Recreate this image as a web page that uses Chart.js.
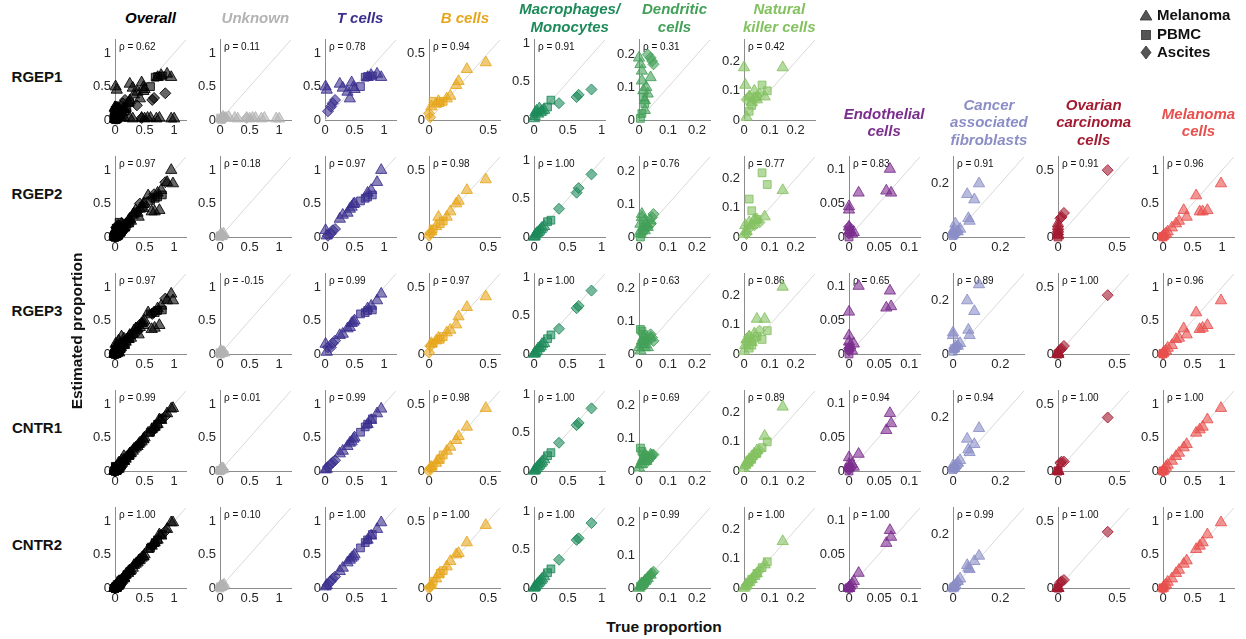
<!DOCTYPE html>
<html>
<head>
<meta charset="utf-8">
<script src="https://cdn.jsdelivr.net/npm/chart.js@4.4.1/dist/chart.umd.min.js"></script>
<style>
  body { margin: 0; background: #fff; width: 1246px; height: 639px; position: relative; overflow: hidden;
         font-family: "Liberation Sans", Arial, Helvetica, sans-serif; }
  canvas { position: absolute; }
  .title { position: absolute; width: 180px; text-align: center; font: italic bold 15px/17.5px "Liberation Sans", Arial, sans-serif; white-space: nowrap; }
  .lab { position: absolute; font-weight: bold; font-size: 15px; line-height: 18px; white-space: nowrap; color: #111; }
  .leg { position: absolute; left: 1140px; font-weight: bold; font-size: 15px; line-height: 18px; color: #111; }
  .leg svg { vertical-align: -2px; margin-right: 5px; }
</style>
</head>
<body>
<script>
// ---- labels ----
var ROWS = ["RGEP1", "RGEP2", "RGEP3", "CNTR1", "CNTR2"];
var COLUMNS = ["Overall", "Unknown", "T cells", "B cells", "Macrophages/\nMonocytes", "Dendritic\ncells",
  "Natural\nkiller cells", "Endothelial\ncells", "Cancer\nassociated\nfibroblasts", "Ovarian\ncarcinoma\ncells", "Melanoma\ncells"];
var COLORS = ["#000000", "#b3b3b3", "#3a2f8e", "#e6a61c", "#1d8a5a", "#43a058", "#84c160",
  "#7b2d8e", "#8b8ec6", "#a31b31", "#e8504d"];
var LIMITS = [1.2, 1.2, 1.2, 0.6, 1.05, 0.245, 0.275, 0.118, 0.3, 0.6, 1.2];
var TICKS = [[0, 0.5, 1], [0, 0.5, 1], [0, 0.5, 1], [0, 0.5], [0, 0.5, 1], [0, 0.1, 0.2], [0, 0.1, 0.2],
  [0, 0.05, 0.1], [0, 0.2], [0, 0.5], [0, 0.5, 1]];

// spearman rho per column, one per row (null = no panel)
var RHO = [
  [0.62, 0.97, 0.97, 0.99, 1.00],
  [0.11, 0.18, -0.15, 0.01, 0.10],
  [0.78, 0.97, 0.99, 0.99, 1.00],
  [0.94, 0.98, 0.97, 0.98, 1.00],
  [0.91, 1.00, 1.00, 1.00, 1.00],
  [0.31, 0.76, 0.63, 0.69, 0.99],
  [0.42, 0.77, 0.86, 0.89, 1.00],
  [null, 0.83, 0.65, 0.94, 1.00],
  [null, 0.91, 0.89, 0.94, 0.99],
  [null, 0.91, 1.00, 1.00, 1.00],
  [null, 0.96, 0.96, 1.00, 1.00]
];

// ---- data: true proportions (x) and estimates per row (y) ----
// M = melanoma samples, P = PBMC, A = ascites
// Unknown (true value differs per row)
var uTrueM = [[0.02, 0.05, 0.10, 0.15, 0.25, 0.30, 0.45, 0.50, 0.55, 0.60, 0.70, 0.75, 0.95, 1.00],
  [0, 0.01, 0.02, 0.03, 0.04, 0.06], [0, 0.01, 0.02, 0.03, 0.05, 0.07],
  [0, 0.01, 0.02, 0.03, 0.04, 0.06], [0, 0.01, 0.02, 0.04, 0.05, 0.07]];
var uEstM = [[0.02, 0.05, 0.03, 0.04, 0.03, 0.02, 0.03, 0.02, 0.03, 0.03, 0.02, 0.03, 0.02, 0.02],
  [0.02, 0.03, 0.01, 0.04, 0.02, 0.05], [0.03, 0.02, 0.04, 0.01, 0.03, 0.02],
  [0.01, 0.02, 0.03, 0.02, 0.04, 0.03], [0.02, 0.01, 0.02, 0.03, 0.03, 0.05]];
var uTrueP = [[0.01, 0.02], [0, 0.01], [0, 0.01], [0, 0.01], [0, 0.01]];
var uEstP = [[0.03, 0.01], [0.01, 0.02], [0.02, 0.0], [0.01, 0.01], [0.0, 0.02]];
var uTrueA = [[0.04, 0.06, 0.08, 0.45], [0.02, 0.05], [0.02, 0.05], [0.02, 0.05], [0.02, 0.05]];
var uEstA = [[0.02, 0.04, 0.03, 0.03], [0.03, 0.02], [0.01, 0.03], [0.02, 0.02], [0.03, 0.04]];

// T cells
var tTrueM = [0.01, 0.03, 0.25, 0.30, 0.38, 0.42, 0.45, 0.48, 0.50, 0.72, 0.78, 0.88, 0.95];
var tEstM = [
  [0.50, 0.45, 0.54, 0.48, 0.42, 0.32, 0.56, 0.49, 0.46, 0.64, 0.67, 0.69, 0.64],
  [0.10, 0.02, 0.27, 0.33, 0.36, 0.42, 0.45, 0.49, 0.50, 0.66, 0.70, 0.82, 1.00],
  [0.15, 0.03, 0.28, 0.30, 0.38, 0.40, 0.46, 0.48, 0.50, 0.68, 0.72, 0.80, 0.90],
  [0.02, 0.03, 0.26, 0.30, 0.37, 0.42, 0.44, 0.48, 0.50, 0.70, 0.76, 0.86, 0.93],
  [0.02, 0.04, 0.25, 0.30, 0.38, 0.42, 0.45, 0.47, 0.50, 0.72, 0.78, 0.88, 0.98]];
var tTrueP = [0.60, 0.68, 0.72, 0.80];
var tEstP = [[0.50, 0.64, 0.65, 0.66], [0.54, 0.58, 0.60, 0.63], [0.60, 0.62, 0.65, 0.66],
  [0.58, 0.66, 0.70, 0.78], [0.60, 0.68, 0.72, 0.80]];
var tTrueA = [0.05, 0.10, 0.13, 0.17];
var tEstA = [[0.13, 0.20, 0.25, 0.30], [0.02, 0.05, 0.10, 0.12], [0.10, 0.10, 0.16, 0.20],
  [0.06, 0.10, 0.13, 0.16], [0.05, 0.10, 0.14, 0.17]];

// B cells
var bTrueM = [0.02, 0.06, 0.08, 0.15, 0.18, 0.23, 0.25, 0.32, 0.48];
var bEstM = [
  [0.10, 0.12, 0.14, 0.16, 0.18, 0.26, 0.29, 0.38, 0.43],
  [0.04, 0.08, 0.15, 0.15, 0.19, 0.25, 0.27, 0.35, 0.43],
  [0.08, 0.10, 0.12, 0.16, 0.18, 0.22, 0.28, 0.35, 0.43],
  [0.03, 0.06, 0.08, 0.15, 0.18, 0.23, 0.26, 0.33, 0.47],
  [0.02, 0.07, 0.10, 0.16, 0.20, 0.25, 0.26, 0.34, 0.47]];
var bTrueP = [0.035, 0.095, 0.12];
var bEstP = [[0.14, 0.13, 0.14], [0.06, 0.10, 0.12], [0.08, 0.11, 0.13], [0.04, 0.09, 0.12], [0.05, 0.11, 0.13]];
var bTrueA = [0.0, 0.01];
var bEstA = [[0.05, 0.02], [0.01, 0.03], [0.01, 0.06], [0.0, 0.02], [0.0, 0.01]];

// Macrophages / monocytes
var mTrueM = [0, 0.01, 0.02, 0.04, 0.06, 0.08, 0.10, 0.12, 0.15];
var mEstM = [
  [0.02, 0.05, 0.10, 0.12, 0.08, 0.15, 0.10, 0.12, 0.13],
  [0.00, 0.01, 0.03, 0.05, 0.06, 0.08, 0.10, 0.12, 0.14],
  [0.00, 0.01, 0.02, 0.04, 0.07, 0.08, 0.10, 0.13, 0.14],
  [0.00, 0.01, 0.02, 0.04, 0.06, 0.08, 0.10, 0.12, 0.15],
  [0.00, 0.01, 0.02, 0.04, 0.06, 0.08, 0.10, 0.12, 0.15]];
var mTrueP = [0.20, 0.25];
var mEstP = [[0.17, 0.26], [0.20, 0.22], [0.20, 0.25], [0.20, 0.24], [0.20, 0.25]];
var mTrueA = [0.37, 0.63, 0.66, 0.85];
var mEstA = [[0.22, 0.30, 0.33, 0.40], [0.37, 0.58, 0.64, 0.82], [0.33, 0.60, 0.63, 0.83],
  [0.37, 0.60, 0.63, 0.82], [0.37, 0.63, 0.65, 0.85]];

// Dendritic cells
var dTrueM = [0, 0.005, 0.01, 0.01, 0.015, 0.02, 0.02, 0.025, 0.03, 0.04];
var dEstM = [
  [0.19, 0.17, 0.15, 0.12, 0.09, 0.06, 0.03, 0.10, 0.08, 0.13],
  [0.01, 0.04, 0.06, 0.07, 0.03, 0.05, 0.02, 0.04, 0.03, 0.05],
  [0.02, 0.01, 0.04, 0.03, 0.05, 0.02, 0.03, 0.04, 0.02, 0.05],
  [0.01, 0.02, 0.03, 0.02, 0.04, 0.03, 0.05, 0.03, 0.04, 0.05],
  [0.00, 0.005, 0.01, 0.012, 0.015, 0.02, 0.022, 0.025, 0.03, 0.04]];
var dTrueP = [0.005, 0.01, 0.015, 0.02];
var dEstP = [[0.005, 0.02, 0.07, 0.05], [0.0, 0.01, 0.02, 0.03], [0.075, 0.07, 0.06, 0.04],
  [0.07, 0.06, 0.05, 0.04], [0.005, 0.01, 0.015, 0.02]];
var dTrueA = [0.03, 0.04, 0.045, 0.05];
var dEstA = [[0.20, 0.19, 0.18, 0.17], [0.03, 0.04, 0.06, 0.07], [0.05, 0.06, 0.05, 0.04],
  [0.03, 0.04, 0.05, 0.05], [0.03, 0.04, 0.045, 0.05]];

// Natural killer cells
var nTrueM = [0, 0.005, 0.01, 0.02, 0.03, 0.04, 0.05, 0.08, 0.15];
var nEstM = [
  [0.18, 0.12, 0.01, 0.08, 0.06, 0.10, 0.07, 0.08, 0.18],
  [0.01, 0.04, 0.02, 0.05, 0.04, 0.06, 0.06, 0.07, 0.16],
  [0.01, 0.03, 0.05, 0.06, 0.04, 0.07, 0.12, 0.12, 0.23],
  [0.01, 0.02, 0.03, 0.04, 0.05, 0.06, 0.07, 0.12, 0.22],
  [0.00, 0.005, 0.01, 0.02, 0.03, 0.04, 0.05, 0.08, 0.16]];
var nTrueP = [0.02, 0.03, 0.05, 0.07, 0.09];
var nEstP = [[0.03, 0.05, 0.08, 0.12, 0.10], [0.13, 0.09, 0.06, 0.22, 0.18], [0.02, 0.03, 0.06, 0.05, 0.08],
  [0.03, 0.04, 0.06, 0.08, 0.10], [0.02, 0.03, 0.05, 0.07, 0.09]];
var nTrueA = [0.01, 0.02, 0.04, 0.06];
var nEstA = [[0.07, 0.08, 0.07, 0.09], [0.01, 0.03, 0.04, 0.05], [0.04, 0.06, 0.05, 0.08],
  [0.02, 0.03, 0.05, 0.07], [0.01, 0.02, 0.04, 0.06]];

// Endothelial cells (not in RGEP1)
var eTrueM = [0, 0, 0, 0.002, 0.005, 0.008, 0.016, 0.062, 0.068, 0.07];
var eEstM = [null,
  [0.045, 0.04, 0.015, 0.01, 0.005, 0.007, 0.065, 0.068, 0.10, 0.065],
  [0.062, 0.027, 0.018, 0.012, 0.005, 0.015, 0.10, 0.068, 0.093, 0.07],
  [0.02, 0.01, 0.005, 0.008, 0.01, 0.006, 0.025, 0.06, 0.085, 0.07],
  [0.0, 0.0, 0.0, 0.003, 0.006, 0.01, 0.022, 0.066, 0.085, 0.075]];
var eTrueP = [0, 0];
var eEstP = [null, [0.01, 0.0], [0.01, 0.0], [0.005, 0.0], [0, 0]];
var eTrueA = [0, 0];
var eEstA = [null, [0.005, 0.015], [0.005, 0.008], [0.002, 0.004], [0, 0.002]];

// Cancer associated fibroblasts
var cTrueM = [0, 0, 0.005, 0.01, 0.02, 0.03, 0.06, 0.065, 0.07, 0.09, 0.11];
var cEstM = [null,
  [0.01, 0.02, 0.03, 0.05, 0.02, 0.03, 0.16, 0.07, 0.06, 0.14, 0.20],
  [0.07, 0.08, 0.02, 0.03, 0.03, 0.04, 0.20, 0.09, 0.07, 0.16, 0.26],
  [0.01, 0.02, 0.01, 0.02, 0.03, 0.04, 0.12, 0.08, 0.07, 0.10, 0.16],
  [0.0, 0.003, 0.006, 0.01, 0.025, 0.035, 0.085, 0.075, 0.07, 0.10, 0.12]];
var cTrueP = [0, 0.005];
var cEstP = [null, [0.005, 0.01], [0.01, 0.02], [0.005, 0.01], [0, 0.005]];
var cTrueA = [0.01, 0.02];
var cEstA = [null, [0.01, 0.02], [0.02, 0.03], [0.01, 0.02], [0.01, 0.02]];

// Ovarian carcinoma cells
var oTrueM = [0, 0, 0, 0, 0, 0];
var oEstM = [null, [0.10, 0.08, 0.06, 0.04, 0.02, 0.01], [0, 0.01, 0, 0.005, 0, 0], [0, 0, 0.005, 0, 0, 0], [0, 0, 0, 0, 0, 0]];
var oTrueP = [0, 0];
var oEstP = [null, [0.03, 0.0], [0, 0], [0, 0], [0, 0]];
var oTrueA = [0.02, 0.03, 0.05, 0.42];
var oEstA = [null, [0.14, 0.15, 0.18, 0.50], [0.03, 0.04, 0.06, 0.44], [0.06, 0.07, 0.07, 0.40], [0.04, 0.05, 0.06, 0.42]];

// Melanoma cells
var lTrueM = [0, 0.02, 0.05, 0.08, 0.15, 0.22, 0.27, 0.35, 0.40, 0.56, 0.62, 0.67, 0.75, 0.98];
var lEstM = [null,
  [0.01, 0.03, 0.05, 0.08, 0.14, 0.20, 0.24, 0.40, 0.30, 0.62, 0.38, 0.38, 0.40, 0.80],
  [0.01, 0.03, 0.05, 0.09, 0.13, 0.22, 0.24, 0.38, 0.29, 0.62, 0.37, 0.39, 0.43, 0.80],
  [0.0, 0.02, 0.06, 0.09, 0.15, 0.22, 0.27, 0.35, 0.40, 0.57, 0.62, 0.66, 0.77, 0.94],
  [0.0, 0.03, 0.05, 0.09, 0.14, 0.22, 0.27, 0.36, 0.41, 0.58, 0.63, 0.68, 0.80, 0.98]];
var lTrueP = [0, 0];
var lEstP = [null, [0.01, 0], [0.01, 0], [0, 0], [0, 0]];
var lTrueA = [0, 0];
var lEstA = [null, [0.02, 0.01], [0.01, 0], [0, 0], [0, 0]];

var SRC = [
  null, // Overall = everything pooled
  { tM: uTrueM, tP: uTrueP, tA: uTrueA, eM: uEstM, eP: uEstP, eA: uEstA, perRow: true },
  { tM: tTrueM, tP: tTrueP, tA: tTrueA, eM: tEstM, eP: tEstP, eA: tEstA },
  { tM: bTrueM, tP: bTrueP, tA: bTrueA, eM: bEstM, eP: bEstP, eA: bEstA },
  { tM: mTrueM, tP: mTrueP, tA: mTrueA, eM: mEstM, eP: mEstP, eA: mEstA },
  { tM: dTrueM, tP: dTrueP, tA: dTrueA, eM: dEstM, eP: dEstP, eA: dEstA },
  { tM: nTrueM, tP: nTrueP, tA: nTrueA, eM: nEstM, eP: nEstP, eA: nEstA },
  { tM: eTrueM, tP: eTrueP, tA: eTrueA, eM: eEstM, eP: eEstP, eA: eEstA },
  { tM: cTrueM, tP: cTrueP, tA: cTrueA, eM: cEstM, eP: cEstP, eA: cEstA },
  { tM: oTrueM, tP: oTrueP, tA: oTrueA, eM: oEstM, eP: oEstP, eA: oEstA },
  { tM: lTrueM, tP: lTrueP, tA: lTrueA, eM: lEstM, eP: lEstP, eA: lEstA }
];

// ---- layout ----
var FONT = '"Liberation Sans", Arial, Helvetica, sans-serif';
var W = 71, H = 82;             // plot box
var YW = 36, PT = 10, PR = 10, XH = 22;
function colX(c) { return 115 + 104.8 * c; }
function rowY(r) { return 120 + 117 * r; }

function zip(xs, ys) { return xs.map(function (x, i) { return { x: x, y: ys[i] }; }); }

function cellPoints(c, r) {
  if (c === 0) {
    var out = { M: [], P: [], A: [] };
    for (var k = 1; k < SRC.length; k++) {
      var p = cellPoints(k, r);
      if (!p) continue;
      out.M = out.M.concat(p.M); out.P = out.P.concat(p.P); out.A = out.A.concat(p.A);
    }
    return out;
  }
  var s = SRC[c];
  if (!s.eM[r]) return null;
  function t(k) { return s.perRow ? s['t' + k][r] : s['t' + k]; }
  return { M: zip(t('M'), s.eM[r]), P: zip(t('P'), s.eP[r]), A: zip(t('A'), s.eA[r]) };
}

function rgba(hex, a) {
  var n = parseInt(hex.slice(1), 16);
  return 'rgba(' + (n >> 16) + ',' + ((n >> 8) & 255) + ',' + (n & 255) + ',' + a + ')';
}

function axisOpts(lim, ticks, isX) {
  return {
    type: 'linear', min: 0, max: lim,
    grid: { display: false, drawTicks: false },
    border: { display: true, color: '#8c8c8c', width: 1 },
    ticks: { color: '#262626', font: { size: 13, family: FONT }, padding: isX ? 3 : 4,
      maxRotation: 0, autoSkip: false, callback: function (v) { return String(v); } },
    afterBuildTicks: function (s) { s.ticks = ticks.map(function (v) { return { value: v }; }); },
    afterFit: function (s) { if (isX) s.height = XH; else s.width = YW; }
  };
}

function rhoPlugin(text) {
  return {
    id: 'rho',
    beforeDatasetsDraw: function (chart) {
      var ctx = chart.ctx, a = chart.chartArea;
      ctx.save();
      ctx.font = '10px ' + FONT;
      ctx.fillStyle = '#111';
      ctx.textBaseline = 'middle';
      ctx.fillText(text, a.left + 4, a.top + 7);
      ctx.restore();
    }
  };
}

var SHAPES = { M: 'triangle', P: 'rect', A: 'rectRot' };
var SIZES = { M: 6.5, P: 5.5, A: 5.5 };

function makeCell(r, c) {
  var pts = cellPoints(c, r);
  if (!pts) return;
  var lim = LIMITS[c], col = COLORS[c];
  var cv = document.createElement('canvas');
  cv.width = YW + W + PR; cv.height = PT + H + XH;
  cv.style.left = (colX(c) - YW) + 'px';
  cv.style.top = (rowY(r) - H - PT) + 'px';
  document.body.appendChild(cv);

  var datasets = ['M', 'P', 'A'].map(function (k) {
    return {
      data: pts[k], pointStyle: SHAPES[k], pointRadius: SIZES[k],
      backgroundColor: rgba(col, 0.6), borderColor: rgba(col, 0.85), borderWidth: 1, clip: false
    };
  });
  datasets.push({ data: [{ x: 0, y: 0 }, { x: lim, y: lim }], showLine: true, pointRadius: 0,
    borderColor: '#d9d9d9', borderWidth: 1, order: 10 });

  var v = RHO[c][r];
  new Chart(cv, {
    type: 'scatter',
    data: { datasets: datasets },
    options: {
      responsive: false, animation: false, devicePixelRatio: 1,
      layout: { padding: { top: PT, right: PR, left: 0, bottom: 0 } },
      plugins: { legend: { display: false }, tooltip: { enabled: false } },
      scales: { x: axisOpts(lim, TICKS[c], true), y: axisOpts(lim, TICKS[c], false) }
    },
    plugins: [rhoPlugin('\u03c1 = ' + v.toFixed(2))]
  });
}

for (var r = 0; r < ROWS.length; r++)
  for (var c = 0; c < COLUMNS.length; c++) makeCell(r, c);

// ---- text ----
function addDiv(cls, html, css) {
  var d = document.createElement('div');
  d.className = cls; d.innerHTML = html;
  for (var k in css) d.style[k] = css[k];
  document.body.appendChild(d);
  return d;
}
COLUMNS.forEach(function (name, c) {
  var lines = name.split('\n');
  var cy = c >= 7 ? 122 : 17.5;
  addDiv('title', lines.join('<br>'), {
    color: COLORS[c], left: (colX(c) + W / 2 - 90) + 'px', top: (cy - lines.length * 17.5 / 2) + 'px'
  });
});
ROWS.forEach(function (name, r) {
  addDiv('lab', name, { left: '0px', width: '74px', textAlign: 'center', top: (rowY(r) - H / 2 - 11) + 'px' });
});
addDiv('lab', 'True proportion', { left: '564px', width: '200px', textAlign: 'center', top: '618px', fontSize: '15.5px' });
addDiv('lab', 'Estimated proportion', { left: '-23px', width: '200px', textAlign: 'center', top: '322px',
  fontSize: '15.5px', transform: 'rotate(-90deg)' });
// ---- legend ----
var mk = {
  Melanoma: '<polygon points="6,1 12,11 0,11" />',
  PBMC: '<rect x="1.5" y="2.5" width="9" height="9" />',
  Ascites: '<polygon points="6,0 11,6.5 6,13 1,6.5" />'
};
["Melanoma", "PBMC", "Ascites"].forEach(function (n, i) {
  addDiv('leg', '<svg width="12" height="13"><g fill="#555" stroke="#333" stroke-width="0.8">' + mk[n] + '</g></svg>' + n,
    { top: (6 + i * 18.5) + 'px' });
});
</script>
</body>
</html>
